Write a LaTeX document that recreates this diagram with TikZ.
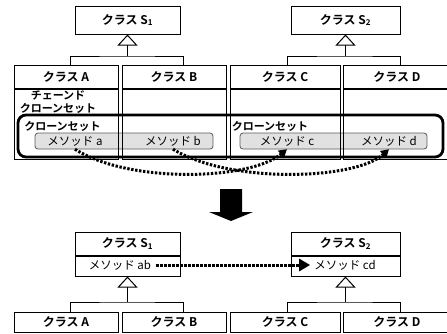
\documentclass[tikz,border=0pt]{standalone}
\usepackage{fontspec}
\setmainfont{Noto Sans CJK JP}[BoldFont={Noto Sans CJK JP Bold}]
\usepackage{xcolor}
\usepackage{tikz}
\usetikzlibrary{arrows.meta, positioning, calc}
\definecolor{methodgray}{RGB}{225, 225, 225}
\definecolor{methodedge}{RGB}{90, 90, 90}

\begin{document}
\begin{tikzpicture}[x=1pt, y=-1pt,
    cls/.style={draw, line width=1pt, minimum height=23pt, inner sep=0pt,
                font=\bfseries\fontsize{12}{14}\selectfont},
    body/.style={draw, line width=1pt, minimum height=70pt, inner sep=0pt},
    supercls/.style={cls, minimum height=28pt},
    inherit/.style={line width=1pt, -{Triangle[open, length=11pt, width=20pt]}},
    methodbox/.style={draw=methodedge, fill=methodgray, rounded corners=3pt,
                      line width=0.8pt, minimum height=16pt, inner sep=0pt},
    methodtxt/.style={minimum height=16pt, inner sep=0pt, font=\fontsize{11.5}{13}\selectfont},
    label/.style={inner sep=0pt, font=\bfseries\fontsize{11}{13}\selectfont, align=center},
    cloneset/.style={draw, line width=2.8pt, rounded corners=8pt},
    dotlink/.style={line width=3pt, dash pattern=on 2.4pt off 1.6pt,
                    -{Triangle[length=8pt, width=9pt]}}
]
    \useasboundingbox (0,0) rectangle (447,333);

    % Before: superclasses
    \node[supercls, minimum width=105pt] (s1) at (127.5,20) {クラス S\textsubscript{1}};
    \node[supercls, minimum width=109pt] (s2) at (345.5,20) {クラス S\textsubscript{2}};

    % Before: subclasses
    \node[cls, minimum width=104pt] (clsA) at (66,76.5) {クラス A};
    \node[cls, minimum width=104pt] (clsB) at (174,76.5) {クラス B};
    \node[cls, minimum width=110pt] (clsC) at (285,76.5) {クラス C};
    \node[cls, minimum width=108pt] (clsD) at (397,76.5) {クラス D};

    % method boxes (drawn under the class bodies)
    \node[methodbox, minimum width=178pt] (grayAB) at (124,141) {};
    \node[methodbox, minimum width=187pt] (grayCD) at (333.5,141) {};

    \node[body, minimum width=104pt, below=0pt of clsA] (bodyA) {};
    \node[body, minimum width=104pt, below=0pt of clsB] (bodyB) {};
    \node[body, minimum width=110pt, below=0pt of clsC] (bodyC) {};
    \node[body, minimum width=108pt, below=0pt of clsD] (bodyD) {};

    % inheritance
    \coordinate (j1) at (127.5,56);
    \coordinate (j2) at (345.5,56);
    \draw[line width=1pt] ([xshift=4pt]clsA.north) |- (j1) -| ([xshift=9pt]clsB.north);
    \draw[line width=1pt] ([xshift=2pt]clsC.north) |- (j2) -| ([xshift=3pt]clsD.north);
    \draw[inherit] (j1) -- (s1.south);
    \draw[inherit] (j2) -- (s2.south);

    % clone sets
    \node[label] (chained) at (58,102) {チェーンド\\クローンセット};
    \draw[cloneset] (18,115) rectangle (443,157);
    \node[label] (clone1) at (62.5,126) {クローンセット};
    \node[label] (clone2) at (270,126) {クローンセット};

    \node[methodtxt] (mA) at (75,141) {メソッド a};
    \node[methodtxt] (mB) at (173,141) {メソッド b};
    \node[methodtxt] (mC) at (287,141) {メソッド c};
    \node[methodtxt] (mD) at (389,141) {メソッド d};

    \draw[dotlink] (mA.south) .. controls (130,184) and (250,180) .. (mC.south);
    \draw[dotlink] (mB.south) .. controls (230,184) and (355,180) .. (mD.south);

    % big arrow
    \fill (220,189) -- (242,189) -- (242,212) -- (253,212) -- (231,221)
        -- (209,212) -- (220,212) -- cycle;

    % After: superclasses with methods
    \node[cls, minimum width=105pt] (s1b) at (127.5,243.5) {クラス S\textsubscript{1}};
    \node[cls, minimum width=105pt, minimum height=20pt, below=0pt of s1b] (s1m) {};
    \node[cls, minimum width=109pt] (s2b) at (345.5,243.5) {クラス S\textsubscript{2}};
    \node[cls, minimum width=109pt, minimum height=20pt, below=0pt of s2b] (s2m) {};
    \node[methodtxt] (mAB) at (120,265) {メソッド ab};
    \node[methodtxt] (mCD) at (345,265) {メソッド cd};
    \draw[dotlink, -{Triangle[length=11pt, width=12pt]}]
        ([xshift=5pt]mAB.east) -- ([xshift=-4pt]mCD.west);

    % After: subclasses
    \node[cls, minimum width=104pt, minimum height=20pt] (clsA2) at (66,322) {クラス A};
    \node[cls, minimum width=104pt, minimum height=20pt] (clsB2) at (174,322) {クラス B};
    \node[cls, minimum width=110pt, minimum height=20pt] (clsC2) at (285,322) {クラス C};
    \node[cls, minimum width=108pt, minimum height=20pt] (clsD2) at (397,322) {クラス D};

    \coordinate (j3) at (127.5,302);
    \coordinate (j4) at (345.5,302);
    \draw[line width=1pt] ([xshift=4pt]clsA2.north) |- (j3) -| ([xshift=9pt]clsB2.north);
    \draw[line width=1pt] ([xshift=2pt]clsC2.north) |- (j4) -| ([xshift=3pt]clsD2.north);
    \draw[inherit] (j3) -- (s1m.south);
    \draw[inherit] (j4) -- (s2m.south);
\end{tikzpicture}
\end{document}
